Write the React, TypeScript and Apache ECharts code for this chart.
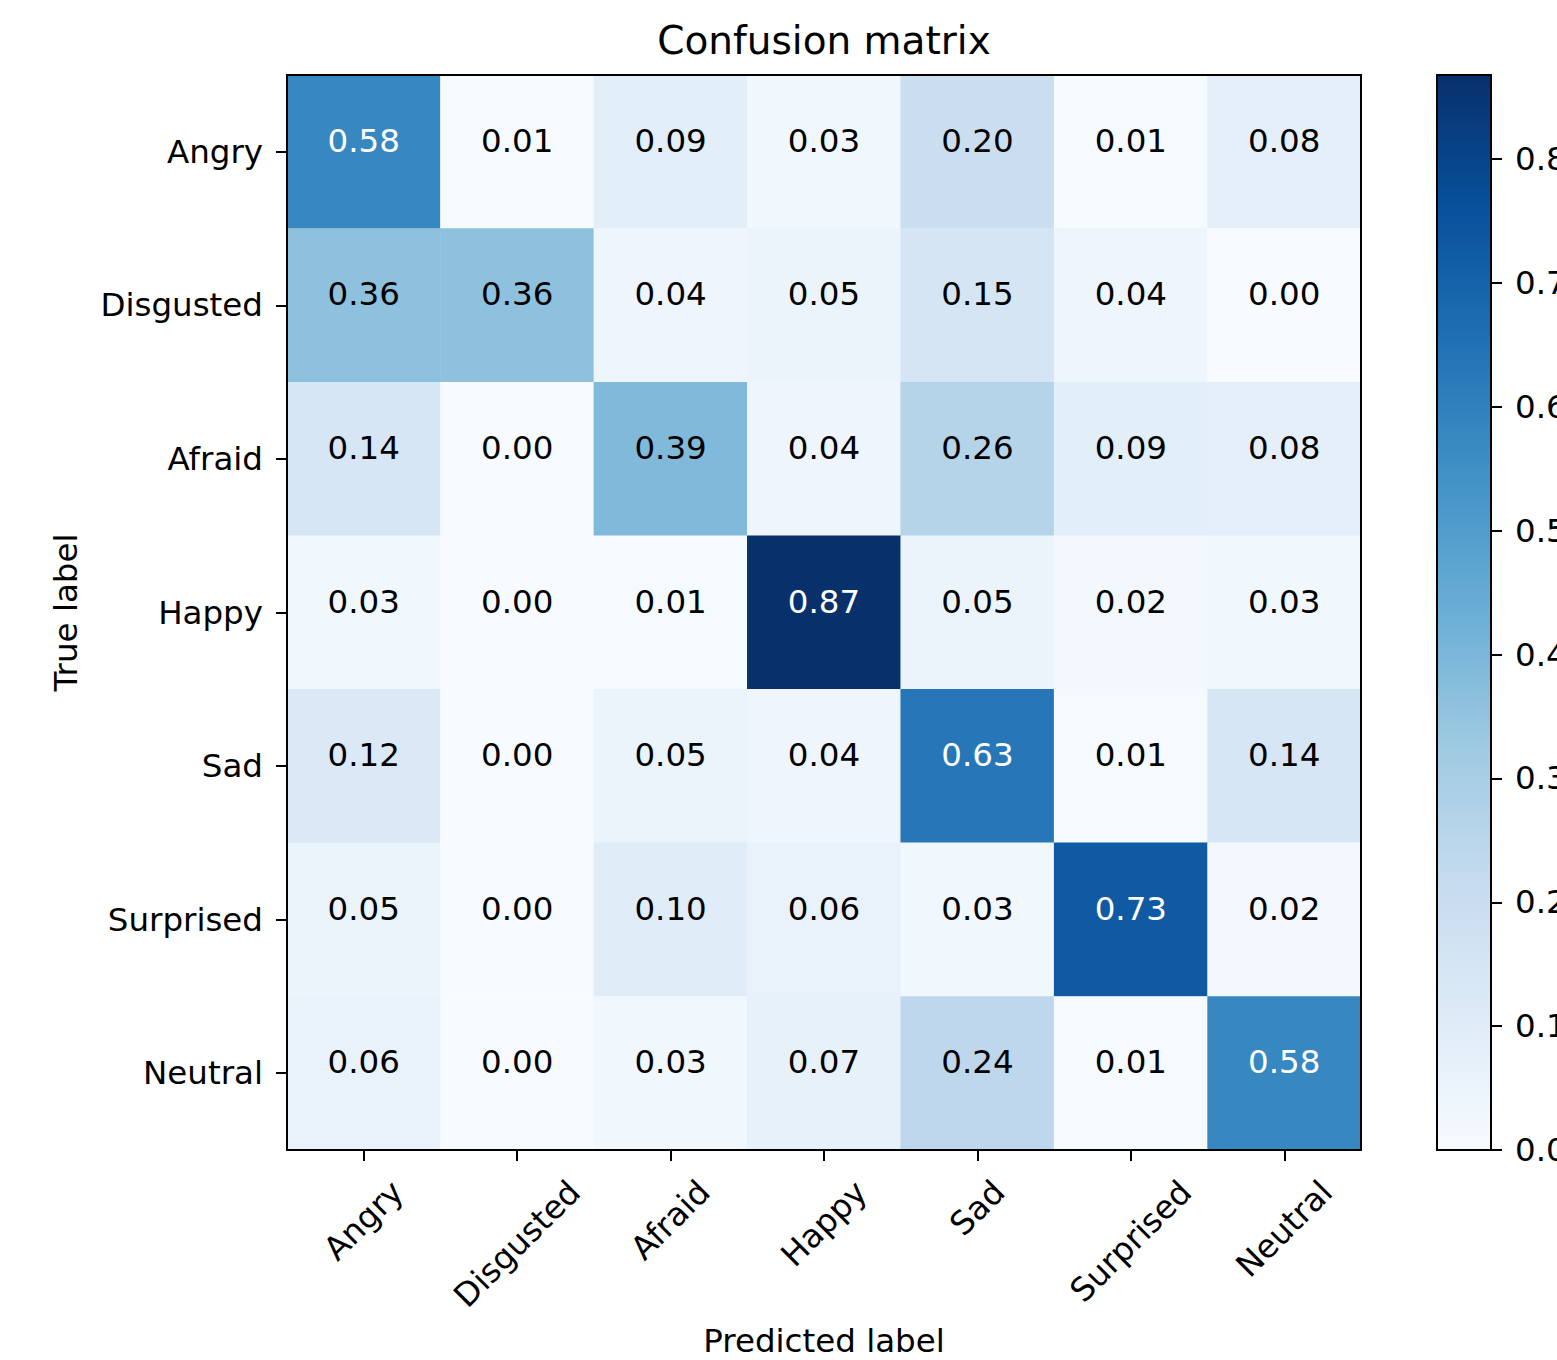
import React, { useEffect, useRef } from "react";
import * as echarts from "echarts";

// ---- data ----
const classLabels = ["Angry", "Disgusted", "Afraid", "Happy", "Sad", "Surprised", "Neutral"];
const rowAngry = [0.58, 0.01, 0.09, 0.03, 0.2, 0.01, 0.08];
const rowDisgusted = [0.36, 0.36, 0.04, 0.05, 0.15, 0.04, 0.0];
const rowAfraid = [0.14, 0.0, 0.39, 0.04, 0.26, 0.09, 0.08];
const rowHappy = [0.03, 0.0, 0.01, 0.87, 0.05, 0.02, 0.03];
const rowSad = [0.12, 0.0, 0.05, 0.04, 0.63, 0.01, 0.14];
const rowSurprised = [0.05, 0.0, 0.1, 0.06, 0.03, 0.73, 0.02];
const rowNeutral = [0.06, 0.0, 0.03, 0.07, 0.24, 0.01, 0.58];
const matrixRows = [rowAngry, rowDisgusted, rowAfraid, rowHappy, rowSad, rowSurprised, rowNeutral];
const colorbarTicks = [0, 0.1, 0.2, 0.3, 0.4, 0.5, 0.6, 0.7, 0.8];
const colorbarMax = 0.868;
const bluesColors = ["#f7fbff", "#deebf7", "#c6dbef", "#9ecae1", "#6baed6", "#4292c6", "#2171b5", "#08519c", "#08306b"];

// ---- layout ----
const W = 1557;
const H = 1360;
const GRID = { left: 287, top: 75, width: 1074, height: 1075 };
const CBAR = { left: 1437, top: 75, width: 54, height: 1075 };
const FONT = "DejaVu Sans";
const FS = 32.5;
const XLABEL_GAP = 25;

export default function App() {
  const ref = useRef<HTMLDivElement>(null);

  useEffect(() => {
    if (!ref.current) return;
    const chart = echarts.init(ref.current, null, { renderer: "svg", width: W, height: H });
    const thresh = colorbarMax / 2;
    const data: any[] = [];
    matrixRows.forEach((row, r) => {
      row.forEach((v, c) => {
        data.push({ value: [c, r, v], label: { color: v > thresh ? "#ffffff" : "#000000" } });
      });
    });

    const axisLineStyle = { color: "#000", width: 2 };
    const option: any = {
      animation: false,
      backgroundColor: "#ffffff",
      textStyle: { fontFamily: FONT },
      title: {
        text: "Confusion matrix",
        left: GRID.left + GRID.width / 2,
        top: 21,
        textAlign: "center",
        padding: 0,
        textStyle: { fontSize: 39, fontWeight: "normal", fontFamily: FONT, color: "#000" },
      },
      grid: [
        { left: GRID.left, top: GRID.top, width: GRID.width, height: GRID.height, show: true, borderColor: "#000", borderWidth: 2, backgroundColor: "transparent", z: 10, containLabel: false, outerBoundsMode: "none" },
        { left: CBAR.left, top: CBAR.top, width: CBAR.width, height: CBAR.height, show: true, borderColor: "#000", borderWidth: 2, backgroundColor: "transparent", z: 10, containLabel: false, outerBoundsMode: "none" },
      ],
      xAxis: [
        {
          type: "category",
          gridIndex: 0,
          data: classLabels,
          position: "bottom",
          z: 10,
          axisLine: { show: true, lineStyle: axisLineStyle },
          axisTick: { show: true, alignWithLabel: true, interval: 0, length: 11, lineStyle: axisLineStyle },
          axisLabel: { show: false, interval: 0 },
          splitLine: { show: false },
          name: "Predicted label",
          nameLocation: "middle",
          nameGap: 174,
          nameTextStyle: { fontSize: FS, fontFamily: FONT, color: "#000", verticalAlign: "top" },
        },
        { type: "value", gridIndex: 1, show: false, min: 0, max: 1 },
      ],
      yAxis: [
        {
          type: "category",
          gridIndex: 0,
          data: classLabels,
          inverse: true,
          z: 10,
          axisLine: { show: true, lineStyle: axisLineStyle },
          axisTick: { show: true, alignWithLabel: true, interval: 0, length: 11, lineStyle: axisLineStyle },
          axisLabel: { show: true, interval: 0, fontSize: FS, fontFamily: FONT, color: "#000", margin: 24 },
          splitLine: { show: false },
          name: "True label",
          nameLocation: "middle",
          nameGap: 205,
          nameRotate: 90,
          nameTextStyle: { fontSize: FS, fontFamily: FONT, color: "#000" },
        },
        {
          type: "value",
          gridIndex: 1,
          min: 0,
          max: colorbarMax,
          position: "right",
          z: 10,
          axisLine: { show: true, onZero: false, lineStyle: axisLineStyle },
          axisTick: { show: true, inside: false, length: 11, lineStyle: axisLineStyle, customValues: colorbarTicks },
          axisLabel: {
            show: true,
            fontSize: FS,
            fontFamily: FONT,
            color: "#000",
            margin: 24,
            customValues: colorbarTicks,
            formatter: (v: number) => v.toFixed(1),
          },
          splitLine: { show: false },
        },
      ],
      visualMap: {
        type: "continuous",
        min: 0,
        max: colorbarMax,
        seriesIndex: 0,
        calculable: false,
        hoverLink: false,
        orient: "vertical",
        left: CBAR.left,
        top: CBAR.top,
        itemWidth: CBAR.width,
        itemHeight: CBAR.height,
        padding: 0,
        inRange: { color: bluesColors },
      },
      series: [
        {
          type: "heatmap",
          xAxisIndex: 0,
          yAxisIndex: 0,
          data,
          itemStyle: { borderWidth: 0 },
          emphasis: { disabled: true },
          label: {
            show: true,
            fontSize: FS,
            fontFamily: FONT,
            offset: [0, -11],
            formatter: (p: any) => (p.value[2] as number).toFixed(2),
          },
        },
      ],
    };
    chart.setOption(option);

    // rotated x tick labels, centred on each tick (matplotlib style), top-aligned below the axis
    const canvas = document.createElement("canvas");
    const ctx = canvas.getContext("2d")!;
    ctx.font = `${FS}px "${FONT}"`;
    const s = Math.SQRT1_2;
    const labelTop = GRID.top + GRID.height + XLABEL_GAP;
    const graphics = classLabels.map((lab, i) => {
      const px = chart.convertToPixel({ xAxisIndex: 0 }, i) as unknown as number;
      const w = ctx.measureText(lab).width;
      const h = FS;
      return {
        type: "text",
        x: px,
        y: labelTop + ((w + h) * s) / 2,
        rotation: Math.PI / 4,
        silent: true,
        style: { text: lab, fontSize: FS, fontFamily: FONT, fill: "#000", align: "center", verticalAlign: "middle" },
      };
    });
    chart.setOption({ graphic: graphics });

    return () => chart.dispose();
  }, []);

  return <div ref={ref} style={{ position: "absolute", left: 0, top: 0, width: W, height: H }} />;
}
